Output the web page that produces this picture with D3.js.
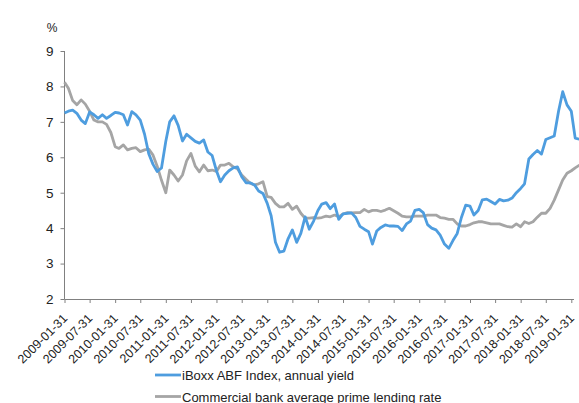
<!DOCTYPE html>
<html>
<head>
<meta charset="utf-8">
<title>iBoxx ABF vs prime lending rate</title>
<style>
  body { margin: 0; background: #fff; }
  svg { font-family: "Liberation Sans", Arial, sans-serif; }
  .axis path, .axis line { stroke: #808080; }
  .axis text { fill: #222; }
</style>
</head>
<body>
<div id="chart"></div>
<script src="https://cdnjs.cloudflare.com/ajax/libs/d3/7.8.5/d3.min.js"></script>
<script>
// monthly values, 2009-01 .. 2019-03
const abfYield = [
  7.25, 7.30, 7.33, 7.24, 7.05, 6.95, 7.28, 7.20, 7.10, 7.20,
  7.10, 7.18, 7.27, 7.25, 7.20, 6.91, 7.29, 7.20, 7.05, 6.65,
  6.10, 5.80, 5.60, 5.70, 6.45, 7.00, 7.17, 6.90, 6.46, 6.65,
  6.55, 6.45, 6.40, 6.49, 6.15, 6.05, 5.62, 5.31, 5.50, 5.62,
  5.70, 5.73, 5.45, 5.28, 5.28, 5.22, 5.05, 4.98, 4.70, 4.35,
  3.60, 3.32, 3.35, 3.70, 3.95, 3.60, 3.85, 4.32, 3.97, 4.20,
  4.50, 4.68, 4.72, 4.55, 4.68, 4.25, 4.40, 4.42, 4.43, 4.30,
  4.05, 3.97, 3.90, 3.55, 3.92, 4.02, 4.09, 4.06, 4.06, 4.05,
  3.93, 4.12, 4.20, 4.50, 4.53, 4.44, 4.10, 4.00, 3.95, 3.80,
  3.55, 3.43, 3.65, 3.85, 4.30, 4.65, 4.62, 4.37, 4.50, 4.80,
  4.82, 4.75, 4.68, 4.81, 4.77, 4.79, 4.85, 5.00, 5.12, 5.25,
  5.95, 6.08, 6.19, 6.09, 6.50, 6.55, 6.60, 7.30, 7.85, 7.48,
  7.30, 6.54, 6.51
];
const primeRate = [
  8.12, 7.95, 7.60, 7.48, 7.62, 7.50, 7.30, 7.05, 7.00, 7.00,
  6.93, 6.70, 6.30, 6.25, 6.35, 6.21, 6.25, 6.27, 6.16, 6.21,
  6.23, 6.06, 5.75, 5.35, 5.00, 5.64, 5.50, 5.33, 5.50, 5.90,
  6.11, 5.75, 5.59, 5.78, 5.62, 5.64, 5.60, 5.78, 5.78, 5.83,
  5.73, 5.68, 5.50, 5.38, 5.27, 5.22, 5.25, 5.31, 4.89, 4.87,
  4.70, 4.60, 4.60, 4.70, 4.53, 4.62, 4.42, 4.28, 4.28, 4.30,
  4.28, 4.30, 4.34, 4.32, 4.37, 4.32, 4.40, 4.44, 4.43, 4.44,
  4.44, 4.53, 4.46, 4.50, 4.50, 4.47, 4.51, 4.56, 4.49, 4.42,
  4.34, 4.32, 4.32, 4.34, 4.34, 4.34, 4.37, 4.37, 4.37, 4.30,
  4.28, 4.25, 4.25, 4.12, 4.06, 4.06, 4.10, 4.15, 4.18, 4.18,
  4.15, 4.12, 4.12, 4.12, 4.08, 4.04, 4.03, 4.12, 4.04, 4.18,
  4.13, 4.18, 4.31, 4.42, 4.42, 4.56, 4.79, 5.08, 5.36, 5.55,
  5.62, 5.70, 5.78
];
const tickLabels = [
  "2009-01-31", "2009-07-31", "2010-01-31", "2010-07-31", "2011-01-31",
  "2011-07-31", "2012-01-31", "2012-07-31", "2013-01-31", "2013-07-31",
  "2014-01-31", "2014-07-31", "2015-01-31", "2015-07-31", "2016-01-31",
  "2016-07-31", "2017-01-31", "2017-07-31", "2018-01-31", "2018-07-31",
  "2019-01-31"
];
const yTicks = [2, 3, 4, 5, 6, 7, 8, 9];
const seriesNames = ["iBoxx ABF Index, annual yield", "Commercial bank average prime lending rate"];
const seriesColors = ["#4e9ddf", "#a5a5a5"];

const W = 579, H = 403;
const parse = d3.utcParse("%Y-%m-%d");
const start = parse("2009-01-01");
// month-end dates for each observation
const dates = abfYield.map((v, i) => d3.utcDay.offset(d3.utcMonth.offset(start, i + 1), -1));

const svg = d3.select("#chart").append("svg")
  .attr("width", W).attr("height", H);

const x = d3.scaleUtc()
  .domain([dates[0], dates[dates.length - 1]])
  .range([64.5, 579.5]);
const y = d3.scaleLinear().domain([2, 9]).range([299, 51]);

// y axis
svg.append("g")
  .attr("class", "axis")
  .attr("transform", "translate(64.5,0)")
  .call(d3.axisLeft(y).tickValues(yTicks).tickSize(4).tickPadding(7).tickFormat(d3.format("d")))
  .call(g => g.select(".domain").attr("d", `M0,${y(9)}V${y(2)}`))
  .selectAll("text").style("font-size", "13.5px");

svg.append("text")
  .attr("x", 52).attr("y", 32)
  .attr("text-anchor", "middle")
  .style("font-size", "12px").attr("fill", "#222")
  .text("%");

// x axis
const xg = svg.append("g")
  .attr("class", "axis")
  .attr("transform", `translate(0,${y(2)})`)
  .call(d3.axisBottom(x).tickValues(tickLabels.map(parse)).tickSize(4).tickSizeOuter(0)
    .tickFormat(d3.utcFormat("%Y-%m-%d")));
xg.select(".domain").attr("d", `M64.5,0.5H574`);
xg.selectAll("text")
  .attr("text-anchor", "end")
  .attr("dy", "0.35em")
  .attr("transform", "translate(0,17) rotate(-45)")
  .attr("y", 0).attr("x", 0)
  .style("font-size", "12.5px");

// lines
const line = d3.line()
  .x((d, i) => x(dates[i]))
  .y(d => y(d));

[primeRate, abfYield].forEach((s, k) => {
  svg.append("path")
    .datum(s)
    .attr("fill", "none")
    .attr("stroke", seriesColors[1 - k])
    .attr("stroke-width", 2.8)
    .attr("stroke-linejoin", "round")
    .attr("d", line);
});

// legend
const legend = svg.append("g");
seriesNames.forEach((name, i) => {
  const ly = 375 + i * 21.5;
  legend.append("line")
    .attr("x1", 155).attr("x2", 181)
    .attr("y1", ly).attr("y2", ly)
    .attr("stroke", seriesColors[i]).attr("stroke-width", 2.8);
  legend.append("text")
    .attr("x", 182).attr("y", ly + 5)
    .style("font-size", "13px").attr("fill", "#222")
    .text(name);
});
</script>
</body>
</html>
